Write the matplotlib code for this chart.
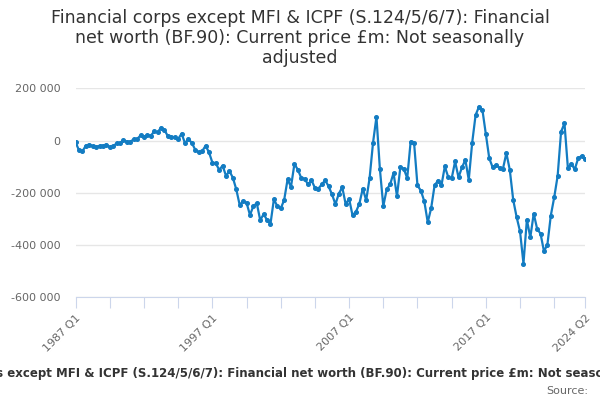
import matplotlib
matplotlib.use("Agg")
import matplotlib.pyplot as plt
from matplotlib.ticker import FuncFormatter, FixedLocator

# Quarterly values, £m, 1987 Q1 .. 2024 Q2
start_year = 1987
values = [
    -7, -37, -41, -19, -15, -21, -24, -20, -19, -15,
    -25, -22, -10, -9, 2, -4, -4, 5, 6, 20,
    15, 21, 19, 35, 32, 50, 40, 17, 14, 12,
    6, 27, -10, 6, -9, -35, -45, -41, -20, -44,
    -84, -87, -112, -96, -135, -117, -142, -187, -247, -232,
    -238, -285, -251, -240, -305, -282, -304, -319, -225, -251,
    -260, -228, -149, -177, -90, -111, -143, -147, -168, -152,
    -181, -184, -168, -152, -175, -206, -244, -203, -179, -244,
    -223, -286, -273, -242, -184, -229, -143, -8, 91, -108,
    -251, -187, -168, -124, -213, -101, -108, -144, -4, -8,
    -172, -192, -233, -313, -259, -172, -153, -172, -99, -140,
    -145, -80, -141, -103, -74, -150, -8, 98, 130, 117,
    25, -68, -103, -93, -104, -108, -48, -112, -227, -293,
    -348, -471, -303, -371, -280, -338, -357, -424, -399, -287,
    -217, -135, 34, 66, -106, -89, -110, -68, -59, -70,
]
values = [v * 1000 for v in values]
quarters = [f"{start_year + i // 4} Q{i % 4 + 1}" for i in range(len(values))]
label_idx = [0, 40, 80, 120, len(values) - 1]
tick_idx = list(range(0, len(values), 10)) + [len(values) - 1]

title = ("Financial corps except MFI & ICPF (S.124/5/6/7): Financial\n"
         "net worth (BF.90): Current price £m: Not seasonally\nadjusted")
caption = ("Financial corps except MFI & ICPF (S.124/5/6/7): Financial net worth "
           "(BF.90): Current price £m: Not seasonally adjusted")

line_col = "#137cc2"
axis_col = "#ccd6eb"

fig = plt.figure(figsize=(6, 4), dpi=100)
ax = fig.add_axes([0.126, 0.257, 0.849, 0.522])

x = list(range(len(values)))
ax.plot(x, values, color=line_col, lw=1.6, marker="o", ms=2.6, mec=line_col, zorder=3)

ax.set_xlim(0, len(values) - 1)
ax.set_ylim(-600000, 200000)
ax.set_yticks([-600000, -400000, -200000, 0, 200000])
ax.yaxis.set_major_formatter(FuncFormatter(lambda v, p: f"{int(v):,}".replace(",", " ")))
ax.grid(axis="y", color="#e6e6e6", lw=1)
ax.set_axisbelow(True)

ax.xaxis.set_major_locator(FixedLocator(tick_idx))
ax.set_xticklabels([quarters[i] if i in label_idx else "" for i in tick_idx])
for lbl in ax.get_xticklabels():
    lbl.set_rotation(45)
    lbl.set_ha("right")
    lbl.set_rotation_mode("anchor")

ax.tick_params(axis="x", length=8, color=axis_col, labelsize=8, labelcolor="#666666", pad=3)
ax.tick_params(axis="y", length=0, labelsize=8, labelcolor="#666666", pad=11)

for s in ["top", "right", "left"]:
    ax.spines[s].set_visible(False)
ax.spines["bottom"].set_color(axis_col)

fig.text(0.5, 0.977, title, ha="center", va="top", fontsize=12.5, color="#333333",
         linespacing=1.15)
fig.text(0.5, 0.067, caption, ha="center", va="center", fontsize=8.45,
         fontweight="bold", color="#333333")
fig.text(0.98, 0.022, "Source:", ha="right", va="center", fontsize=8, color="#666666")

fig.savefig("out.png", dpi=100)
